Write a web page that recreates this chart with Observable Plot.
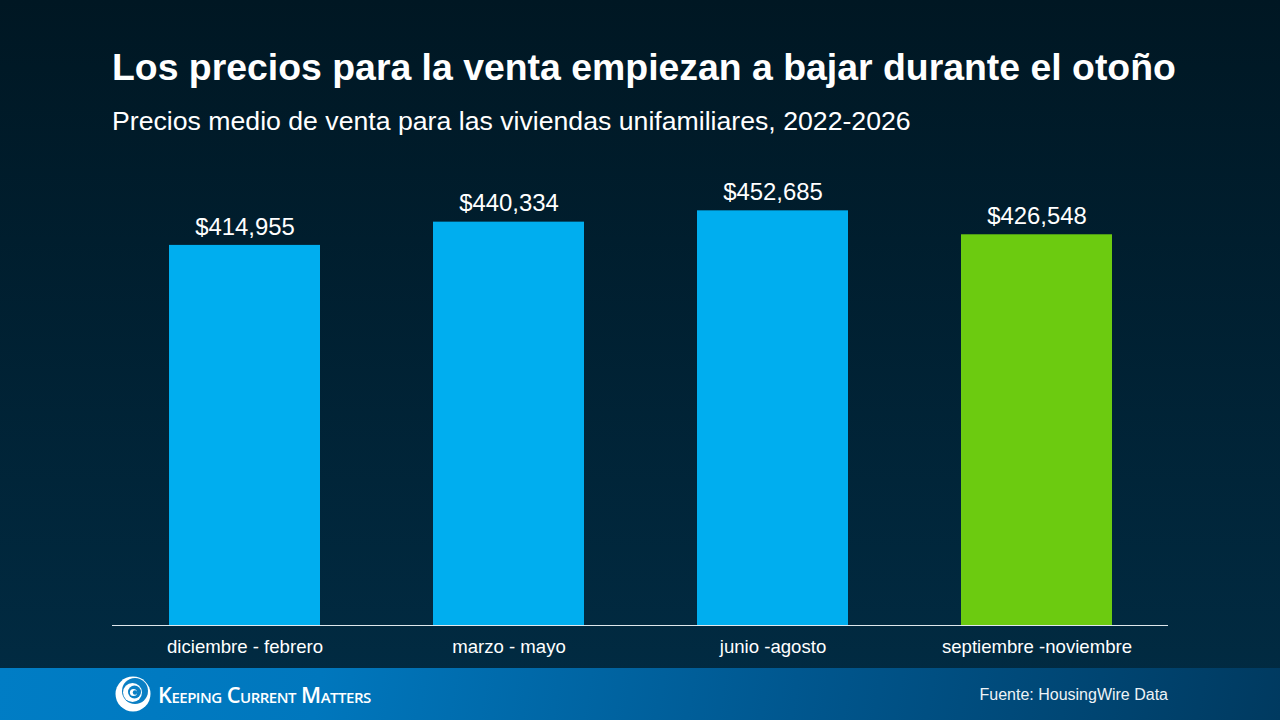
<!DOCTYPE html>
<html lang="es">
<head>
<meta charset="utf-8">
<script src="https://cdn.jsdelivr.net/npm/d3@7"></script>
<script src="https://cdn.jsdelivr.net/npm/@observablehq/plot@0.6"></script>
<style>
html,body{margin:0;padding:0;width:1280px;height:720px;overflow:hidden;background:#001825;}
#page{position:relative;width:1280px;height:720px;overflow:hidden;font-family:"Liberation Sans",Arial,sans-serif;color:#fff;
 background:linear-gradient(180deg,#001723 0%,#012c44 100%);}
#chart{position:absolute;left:0;top:0;}
#chart svg{display:block;background:transparent;}
#title{position:absolute;left:112px;top:44px;font-size:37.4px;font-weight:700;line-height:46px;white-space:nowrap;}
#subtitle{position:absolute;left:112px;top:104px;font-size:26.67px;line-height:34px;white-space:nowrap;}
#footer{position:absolute;left:0;top:668px;width:1280px;height:52px;background:linear-gradient(100deg,#007dc5 0%,#0077bd 25%,#00578f 62%,#003a60 100%);}
#source{position:absolute;right:112px;top:17px;font-size:16px;line-height:19px;color:#eef3f7;white-space:nowrap;}
#logo{position:absolute;left:115px;top:8px;}
#brand{position:absolute;left:158px;top:14px;font-family:"Open Sans",sans-serif;font-weight:600;font-size:21.8px;line-height:26px;font-variant:small-caps;white-space:nowrap;letter-spacing:-.5px;}
</style>
</head>
<body>
<div id="page">
  <div id="chart"></div>
  <div id="title">Los precios para la venta empiezan a bajar durante el otoño</div>
  <div id="subtitle">Precios medio de venta para las viviendas unifamiliares, 2022-2026</div>
  <div id="footer">
    <svg id="logo" width="36" height="36" viewBox="0 0 36 36">
      <circle cx="18" cy="18" r="17.5" fill="#fff"/>
      <circle cx="20" cy="15" r="13" fill="#0a7fc4"/>
      <circle cx="17.5" cy="16.5" r="9.5" fill="#fff"/>
      <circle cx="19.5" cy="16" r="6.5" fill="#0a7fc4"/>
      <circle cx="18.5" cy="16.5" r="3.6" fill="#fff"/>
      <circle cx="20" cy="16.5" r="2.2" fill="#0a7fc4"/>
    </svg>
    <div id="brand">Keeping Current Matters</div>
    <div id="source">Fuente: HousingWire Data</div>
  </div>
</div>
<script>
const periods = ["diciembre - febrero", "marzo - mayo", "junio -agosto", "septiembre -noviembre"];
const prices = [414955, 440334, 452685, 426548];
const barColors = ["#00aeef", "#00aeef", "#00aeef", "#6ccb10"];
const rows = periods.map((period, i) => ({period, price: prices[i], color: barColors[i]}));

const chart = Plot.plot({
  width: 1280,
  height: 720,
  marginLeft: 112,
  marginRight: 112,
  marginTop: 167,
  marginBottom: 95,
  style: {background: "transparent", fontFamily: '"Liberation Sans", Arial, sans-serif', overflow: "visible"},
  x: {domain: periods, paddingInner: 0.428, paddingOuter: 0.214, align: 0.5045, label: null},
  y: {domain: [0, 500000], axis: null, label: null},
  marks: [
    Plot.barY(rows, {x: "period", y: "price", fill: "color"}),
    Plot.ruleY([0], {stroke: "#dfe7ec", strokeWidth: 1}),
    Plot.text(rows, {
      x: "period", y: "price", text: d => "$" + d3.format(",")(d.price),
      dy: -18.5, fill: "#fff", fontSize: 23.9, lineAnchor: "middle"
    }),
    Plot.axisX({tickSize: 0, tickPadding: 14, fontSize: 18.6, color: "#fff", label: null, lineAnchor: "top", fill: "#fff"})
  ]
});
document.getElementById("chart").appendChild(chart);
</script>
</body>
</html>
